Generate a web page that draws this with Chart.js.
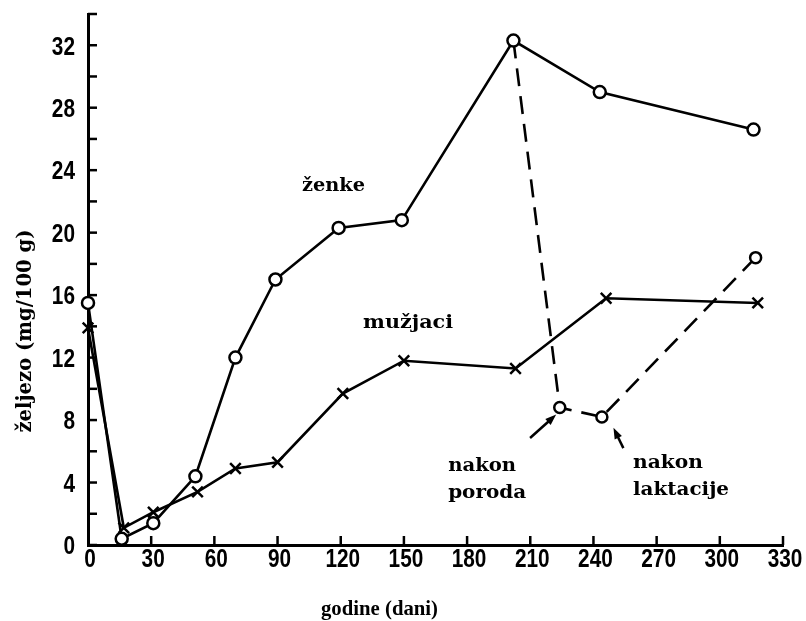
<!DOCTYPE html>
<html>
<head>
<meta charset="utf-8">
<script src="https://cdn.jsdelivr.net/npm/chart.js@4.4.1/dist/chart.umd.min.js"></script>
<style>
  html, body { margin: 0; padding: 0; background: #fff; }
  #wrap { width: 806px; height: 621px; }
</style>
</head>
<body>
<div id="wrap"><canvas id="c" width="806" height="621"></canvas></div>
<script>
// ---- data ----
const DAYS_F = [0, 16, 31, 51, 70, 89, 119, 149, 202, 243, 316];
const IRON_F = [15.5, 0.4, 1.4, 4.4, 12.0, 17.0, 20.3, 20.8, 32.3, 29.0, 26.6];
const DAYS_F_DASH = [202, 224, 244, 317];
const IRON_F_DASH = [32.3, 8.8, 8.2, 18.4];
const DAYS_M = [0, 17, 31, 52, 70, 90, 121, 150, 203, 246, 318];
const IRON_M = [13.9, 1.1, 2.1, 3.4, 4.9, 5.3, 9.7, 11.8, 11.3, 15.8, 15.5];
const X_TICK_LABELS = ['0','30','60','90','120','150','180','210','240','270','300','330'];
const Y_TICK_LABELS = ['0','4','8','12','16','20','24','28','32'];
const X_TITLE = 'godine (dani)';
const Y_TITLE = 'željezo (mg/100 g)';
const LABEL_F = 'ženke';
const LABEL_M = 'mužjaci';
const NOTE_1 = ['nakon', 'poroda'];
const NOTE_2 = ['nakon', 'laktacije'];

const pts = (xs, ys) => xs.map((x, i) => ({ x: x, y: ys[i] }));

const SERIF = '"DejaVu Serif", "Liberation Serif", serif';
const TIMES = '"Liberation Serif", "DejaVu Serif", serif';
const TICKFONT = '"Liberation Sans", Arial, sans-serif';

function fitText(ctx, text, x, y, targetW, size, rotate, family) {
  ctx.save();
  ctx.font = 'bold ' + size + 'px ' + (family || SERIF);
  const w = ctx.measureText(text).width;
  ctx.translate(x, y);
  if (rotate) ctx.rotate(-Math.PI / 2);
  ctx.scale(targetW / w, 1);
  ctx.fillStyle = '#000';
  ctx.textBaseline = 'alphabetic';
  ctx.textAlign = 'left';
  ctx.fillText(text, rotate ? -w / 2 : 0, 0);
  ctx.restore();
}

function tickText(ctx, text, x, y, align) {
  ctx.save();
  ctx.font = 'bold 26px ' + TICKFONT;
  const sx = 0.8;
  const w = ctx.measureText(text).width * sx;
  let left = x;
  if (align === 'right') left = x - w;
  else if (align === 'center') left = x - w / 2;
  ctx.translate(left, y);
  ctx.scale(sx, 1);
  ctx.fillStyle = '#000';
  ctx.textAlign = 'left';
  ctx.textBaseline = 'alphabetic';
  ctx.fillText(text, 0, 0);
  ctx.restore();
}

function arrow(ctx, x0, y0, x1, y1) {
  const a = Math.atan2(y1 - y0, x1 - x0);
  const L = 11, W = 4;
  ctx.save();
  ctx.strokeStyle = '#000';
  ctx.fillStyle = '#000';
  ctx.lineWidth = 2.5;
  ctx.beginPath();
  ctx.moveTo(x0, y0);
  ctx.lineTo(x1 - L * 0.8 * Math.cos(a), y1 - L * 0.8 * Math.sin(a));
  ctx.stroke();
  ctx.beginPath();
  ctx.moveTo(x1, y1);
  ctx.lineTo(x1 - L * Math.cos(a) + W * Math.sin(a), y1 - L * Math.sin(a) - W * Math.cos(a));
  ctx.lineTo(x1 - L * Math.cos(a) - W * Math.sin(a), y1 - L * Math.sin(a) + W * Math.cos(a));
  ctx.closePath();
  ctx.fill();
  ctx.restore();
}

const decor = {
  id: 'decor',
  afterDatasetsDraw(chart) {
    const ctx = chart.ctx;
    const xs = chart.scales.x, ys = chart.scales.y;
    const ca = chart.chartArea;
    ctx.save();
    ctx.strokeStyle = '#000';
    ctx.lineWidth = 2.5;
    // inward tick marks + tick labels from the scales
    ys.ticks.forEach(t => {
      const py = ys.getPixelForValue(t.value);
      ctx.beginPath(); ctx.moveTo(ca.left, py); ctx.lineTo(ca.left + 9, py); ctx.stroke();
      const i = Y_TICK_LABELS.indexOf(String(t.value));
      if (i >= 0) tickText(ctx, Y_TICK_LABELS[i], ca.left - 13, py + 9.3, 'right');
    });
    xs.ticks.forEach(t => {
      const px = xs.getPixelForValue(t.value);
      if (t.value !== 0) {
        ctx.beginPath(); ctx.moveTo(px, ca.bottom); ctx.lineTo(px, ca.bottom - 9); ctx.stroke();
      }
      const i = X_TICK_LABELS.indexOf(String(t.value));
      if (i >= 0) tickText(ctx, X_TICK_LABELS[i], px + 2, ca.bottom + 22, 'center');
    });
    ctx.restore();

    const X = v => xs.getPixelForValue(v), Y = v => ys.getPixelForValue(v);
    // series labels
    fitText(ctx, LABEL_F, X(101.6), Y(22.66), 63, 18);
    fitText(ctx, LABEL_M, X(130.6), Y(13.9), 90, 18);
    fitText(ctx, NOTE_1[0], X(171), Y(4.74), 68, 18);
    fitText(ctx, NOTE_1[1], X(171), Y(3.0), 78, 18);
    fitText(ctx, NOTE_2[0], X(258.8), Y(4.93), 70, 18);
    fitText(ctx, NOTE_2[1], X(258.8), Y(3.2), 96, 18);
    // arrows
    arrow(ctx, X(209.9), Y(6.85), X(222.3), Y(8.35));
    arrow(ctx, X(254.2), Y(6.2), X(249.5), Y(7.5));
    // axis titles
    fitText(ctx, X_TITLE, 321, 615, 117, 22, false, TIMES);
    fitText(ctx, Y_TITLE, 31, 331, 203, 21, true);
  }
};

const ctx = document.getElementById('c').getContext('2d');
new Chart(ctx, {
  type: 'line',
  data: {
    datasets: [
      {
        label: LABEL_F,
        data: pts(DAYS_F, IRON_F),
        borderColor: '#000', borderWidth: 2.6,
        pointStyle: 'circle', pointRadius: 6, pointBackgroundColor: '#fff',
        pointBorderColor: '#000', pointBorderWidth: 2.5,
        tension: 0, clip: false
      },
      {
        label: LABEL_F + ' (nakon)',
        data: pts(DAYS_F_DASH, IRON_F_DASH),
        borderColor: '#000', borderWidth: 2.6, borderDash: [18, 10],
        pointStyle: 'circle', pointRadius: [0, 5.5, 5.5, 5.5], pointBackgroundColor: '#fff',
        pointBorderColor: '#000', pointBorderWidth: 2.5,
        tension: 0, clip: false
      },
      {
        label: LABEL_M,
        data: pts(DAYS_M, IRON_M),
        borderColor: '#000', borderWidth: 2.6,
        pointStyle: 'crossRot', pointRadius: 7.5,
        pointBorderColor: '#000', pointBorderWidth: 2.5,
        tension: 0, clip: false
      }
    ]
  },
  options: {
    responsive: false,
    animation: false,
    devicePixelRatio: 1,
    layout: { padding: { left: 0, top: 14, right: 23, bottom: 0 } },
    plugins: { legend: { display: false }, tooltip: { enabled: false } },
    scales: {
      x: {
        type: 'linear', min: 0, max: 330,
        grid: { display: false, drawTicks: false },
        border: { display: true, color: '#000', width: 3 },
        ticks: { display: false, stepSize: 30, autoSkip: false },
        afterFit: (s) => { s.height = 76; s.paddingLeft = 0; s.paddingRight = 0; }
      },
      y: {
        type: 'linear', min: 0, max: 34,
        grid: { display: false, drawTicks: false },
        border: { display: true, color: '#000', width: 3 },
        ticks: { display: false, stepSize: 2, autoSkip: false },
        afterFit: (s) => { s.width = 88; s.paddingTop = 0; s.paddingBottom = 0; }
      }
    }
  },
  plugins: [decor]
});
</script>
</body>
</html>
